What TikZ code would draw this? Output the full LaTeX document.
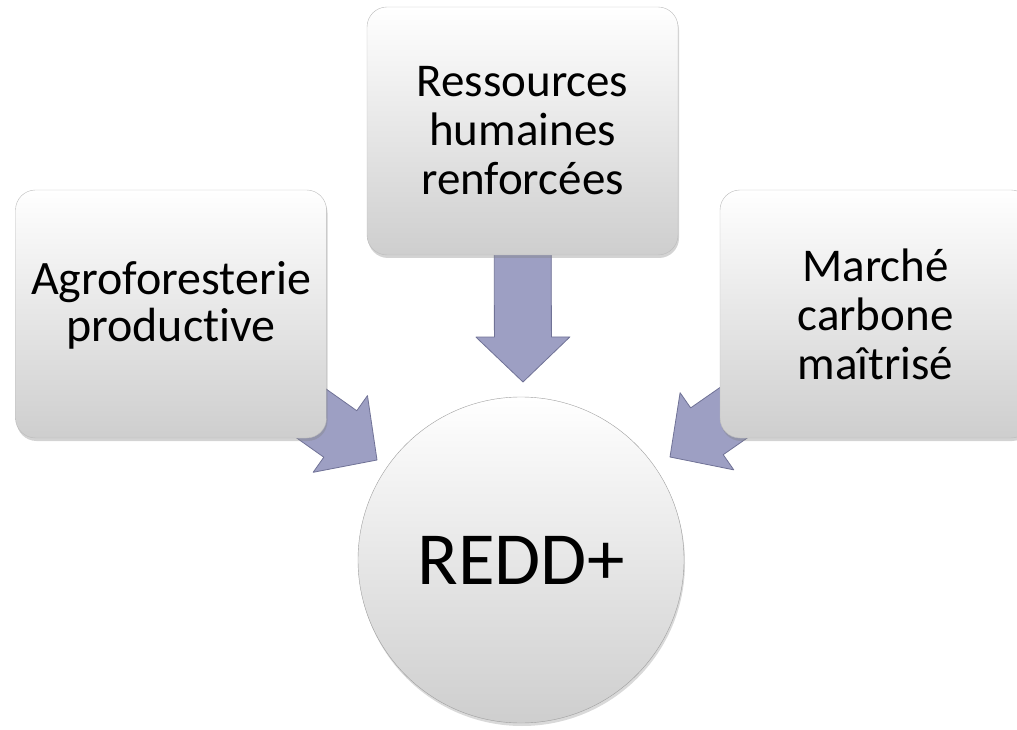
\documentclass[tikz,border=0pt]{standalone}
\usepackage{fontspec}
\setmainfont{Carlito}[Ligatures=NoCommon]
\usetikzlibrary{calc,shadows,backgrounds}

\definecolor{arrowfill}{RGB}{157,159,195}
\definecolor{arrowedge}{RGB}{112,114,150}
\definecolor{boxedge}{RGB}{188,188,188}
\definecolor{boxbottom}{RGB}{206,206,206}

\tikzset{
	goalbox/.style={draw=boxedge, rounded corners=20pt, top color=white, bottom color=boxbottom,
		minimum width=311pt, minimum height=248pt, inner sep=0pt, align=center,
		font=\fontsize{47}{49}\selectfont,
		drop shadow={opacity=0.35, shadow xshift=1pt, shadow yshift=-3pt}},
	hubcircle/.style={circle, draw=gray!75, top color=white, bottom color=boxbottom,
		minimum size=326pt, inner sep=0pt, font=\fontsize{75}{80}\selectfont,
		drop shadow={opacity=0.3, shadow xshift=1pt, shadow yshift=-3pt}},
	arrowbody/.style={fill=arrowfill, draw=arrowedge, line width=0.8pt, line join=round}
}

% block arrow from #1 to the tip #2
\newcommand\blockarrow[2]{%
	\path let \p1=($(#2)-(#1)$), \n1={atan2(\y1,\x1)}, \n2={veclen(\x1,\y1)} in
		\pgfextra{\xdef\arrang{\n1}\xdef\arrlen{\n2}};
	\begin{scope}[shift={(#1)}, rotate=\arrang]
		\path[arrowbody] (0,-28.5) -- (\arrlen-45,-28.5) -- (\arrlen-45,-47) -- (\arrlen,0)
			-- (\arrlen-45,47) -- (\arrlen-45,28.5) -- (0,28.5) -- cycle;
	\end{scope}}

\begin{document}
\begin{tikzpicture}[x=1pt,y=1pt]
	\useasboundingbox (0,0) rectangle (1017,729);
	\node[goalbox, label={[align=center, font=\fontsize{48}{47}\selectfont, yshift=9pt]center:{Agroforesterie\\productive}}] (agro) at (171,415) {};
	\node[goalbox] (rh) at (522.5,598) {Ressources\\humaines\\renforcées};
	\node[goalbox] (marche) at (875.5,415) {Marché\\carbone\\maîtrisé};
	\node[hubcircle] (redd) at (521,169) {REDD+};
	\coordinate (tipA) at (377,269);
	\coordinate (tipB) at (523,347);
	\coordinate (tipC) at (670,272);
	\begin{pgfonlayer}{background}
		\blockarrow{agro.center}{tipA}
		\blockarrow{rh.center}{tipB}
		\blockarrow{marche.center}{tipC}
	\end{pgfonlayer}
\end{tikzpicture}
\end{document}
